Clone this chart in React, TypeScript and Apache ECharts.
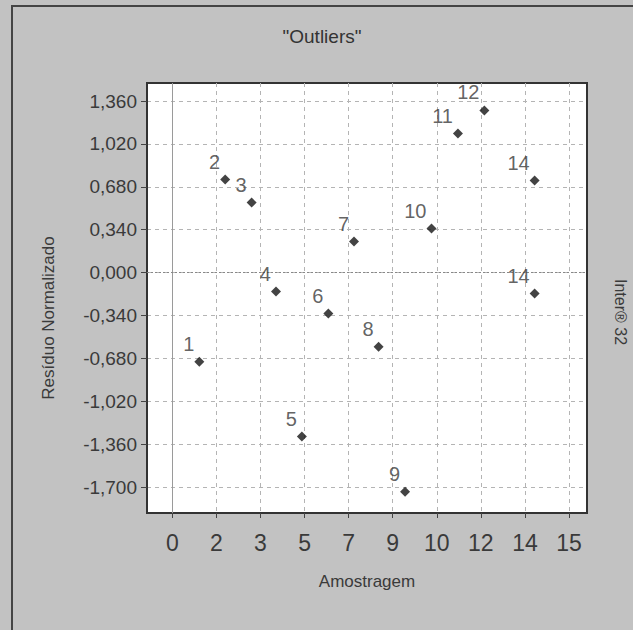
import { useEffect, useRef } from "react";
import * as echarts from "echarts";

const titleText = '"Outliers"';
const xAxisName = "Amostragem";
const yAxisName = "Resíduo Normalizado";
const sideText = "Inter® 32";

const sampleLabels = ["1", "2", "3", "4", "5", "6", "7", "8", "9", "10", "11", "12", "14", "14"];
const sampleX = [1.02, 2.0, 3.0, 3.92, 4.9, 5.9, 6.87, 7.8, 8.8, 9.8, 10.8, 11.8, 13.7, 13.7];
const residuals = [-0.706, 0.737, 0.555, -0.15, -1.3, -0.325, 0.246, -0.587, -1.737, 0.349, 1.102, 1.285, 0.73, -0.166];

const xTickValues = [0, 1.667, 3.333, 5, 6.667, 8.333, 10, 11.667, 13.333, 15];
const xTickLabels = ["0", "2", "3", "5", "7", "9", "10", "12", "14", "15"];
const yTickValues = [-1.7, -1.36, -1.02, -0.68, -0.34, 0, 0.34, 0.68, 1.02, 1.36];
const yTickLabels = ["-1,700", "-1,360", "-1,020", "-0,680", "-0,340", "0,000", "0,340", "0,680", "1,020", "1,360"];

const FONT = "'Liberation Sans', Arial, sans-serif";

function nearestLabel(v: number, values: number[], labels: string[]) {
  let best = 0;
  for (let i = 1; i < values.length; i++) {
    if (Math.abs(values[i] - v) < Math.abs(values[best] - v)) best = i;
  }
  return labels[best];
}

export default function App() {
  const ref = useRef<HTMLDivElement>(null);
  useEffect(() => {
    if (!ref.current) return;
    const chart = echarts.init(ref.current, null, { renderer: "svg" });
    const data = sampleX.map((x, i) => ({ value: [x, residuals[i]], name: sampleLabels[i] }));
    chart.setOption({
      animation: false,
      backgroundColor: "#c2c2c2",
      grid: {
        left: 147,
        top: 83,
        width: 440,
        height: 430,
        show: true,
        backgroundColor: "#ffffff",
        borderColor: "#333333",
        borderWidth: 2,
        outerBoundsMode: "none",
      },
      xAxis: {
        type: "value",
        min: -0.957,
        max: 15.68,
        name: xAxisName,
        nameLocation: "middle",
        nameGap: 60,
        nameTextStyle: { fontFamily: FONT, fontSize: 17, color: "#3a3a3a" },
        axisLine: { show: true, onZero: false, lineStyle: { color: "#333", width: 2 } },
        axisTick: {
          show: true,
          inside: false,
          length: 5,
          customValues: xTickValues,
          lineStyle: { color: "#444", width: 1 },
        },
        axisLabel: {
          customValues: xTickValues,
          margin: 18,
          fontFamily: FONT,
          fontSize: 23,
          color: "#3a3a3a",
          formatter: (v: number) => nearestLabel(v, xTickValues, xTickLabels),
        },
        splitLine: { show: true, lineStyle: { color: "#b4b4b4", type: [4, 4], width: 1 } },
      },
      yAxis: {
        type: "value",
        min: -1.906,
        max: 1.503,
        axisLine: { show: true, onZero: false, lineStyle: { color: "#333", width: 2 } },
        axisTick: {
          show: true,
          inside: false,
          length: 6,
          customValues: yTickValues,
          lineStyle: { color: "#444", width: 1 },
        },
        axisLabel: {
          customValues: yTickValues,
          margin: 10,
          fontFamily: FONT,
          fontSize: 19,
          color: "#3a3a3a",
          formatter: (v: number) => nearestLabel(v, yTickValues, yTickLabels),
        },
        splitLine: { show: true, lineStyle: { color: "#b4b4b4", type: [4, 4], width: 1 } },
      },
      series: [
        {
          type: "scatter",
          data,
          symbol: "diamond",
          symbolSize: 10,
          itemStyle: { color: "#141414" },
          label: {
            show: true,
            position: "top",
            align: "right",
            distance: 3,
            offset: [-5, 0],
            fontFamily: FONT,
            fontSize: 20,
            color: "#3a3a3a",
            formatter: (p: any) => p.name,
          },
          markLine: {
            silent: true,
            symbol: "none",
            label: { show: false },
            data: [
              { xAxis: 0, lineStyle: { color: "#9a9a9a", type: "solid", width: 1 } },
              { yAxis: 0, lineStyle: { color: "#888888", type: [2, 2], width: 1 } },
            ],
          },
          z: 5,
        },
      ],
      graphic: [
        {
          type: "text",
          x: 322,
          y: 36,
          style: {
            text: titleText,
            fontFamily: FONT,
            fontSize: 19,
            fill: "#333",
            textAlign: "center",
            textVerticalAlign: "middle",
          },
        },
        {
          type: "text",
          x: 48,
          y: 318,
          rotation: Math.PI / 2,
          style: {
            text: yAxisName,
            fontFamily: FONT,
            fontSize: 17,
            fill: "#3a3a3a",
            textAlign: "center",
            textVerticalAlign: "middle",
          },
        },
        {
          type: "text",
          x: 620,
          y: 312,
          rotation: -Math.PI / 2,
          style: {
            text: sideText,
            fontFamily: FONT,
            fontSize: 16,
            fill: "#3a3a3a",
            textAlign: "center",
            textVerticalAlign: "middle",
          },
        },
        {
          type: "line",
          shape: { x1: 11, y1: 6, x2: 633, y2: 6 },
          style: { stroke: "#444", lineWidth: 2 },
        },
        {
          type: "line",
          shape: { x1: 12, y1: 6, x2: 12, y2: 630 },
          style: { stroke: "#444", lineWidth: 2 },
        },
      ],
    });
    return () => chart.dispose();
  }, []);
  return (
    <div
      ref={ref}
      style={{ position: "fixed", left: 0, top: 0, width: 633, height: 630 }}
    />
  );
}
